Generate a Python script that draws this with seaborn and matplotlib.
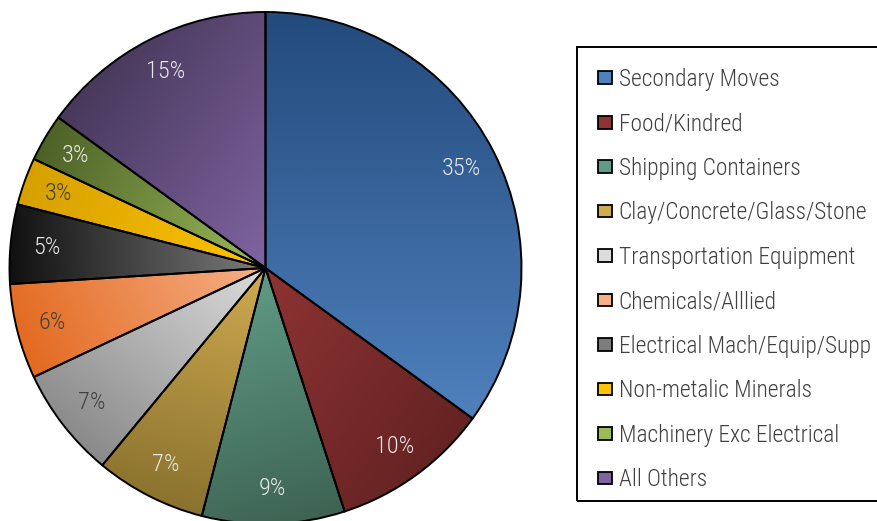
import matplotlib
matplotlib.use('Agg')
import numpy as np
import matplotlib.pyplot as plt
import seaborn as sns
from matplotlib import font_manager as fm
from matplotlib.colors import LinearSegmentedColormap
from matplotlib.patches import Patch, Rectangle

categories = ['Secondary Moves', 'Food/Kindred', 'Shipping Containers',
              'Clay/Concrete/Glass/Stone', 'Transportation Equipment',
              'Chemicals/Alllied', 'Electrical Mach/Equip/Supp',
              'Non-metalic Minerals', 'Machinery Exc Electrical', 'All Others']
shares = [35, 10, 9, 7, 7, 6, 5, 3, 3, 15]

# (dark shade at the slice's starting edge, light shade on the far side)
dark_colors = ['#234a7c', '#652322', '#3e6353', '#8a722e', '#8a8a8a',
               '#e36a20', '#101010', '#d6a000', '#4d6127', '#47395b']
light_colors = ['#4f81bd', '#8e3333', '#5f9b85', '#d0ab50', '#dcdcdc',
                '#f6b088', '#7c7c7c', '#ffc400', '#9bbb59', '#8064a2']
label_colors = ['#e8e8e8', '#e8e8e8', '#e8e8e8', '#e8e8e8', '#404040',
                '#404040', '#e8e8e8', '#404040', '#e8e8e8', '#e8e8e8']


def pick_font(size):
    prefs = [('Roboto Condensed', 300), ('Barlow Semi Condensed', 300),
             ('Open Sans Condensed', 300), ('Archivo Narrow', 400)]
    for name, weight in prefs:
        for f in fm.fontManager.ttflist:
            if f.name == name and str(f.weight) == str(weight) and f.style == 'normal':
                return fm.FontProperties(fname=f.fname, size=size)
    return fm.FontProperties(family='DejaVu Sans', stretch='condensed', size=size)


sns.set_style('white')
plt.rcParams['font.family'] = ['DejaVu Sans']
pct_font = pick_font(17.5)
leg_font = pick_font(16.8)

W, H = 878, 521
fig = plt.figure(figsize=(W / 100, H / 100), dpi=100)
cx, cy, r = 265.5, 268, 256
ax = fig.add_axes([(cx - r) / W, (H - cy - r) / H, 2 * r / W, 2 * r / H])

wedges, _ = ax.pie(shares, startangle=90, counterclock=False, colors=light_colors,
                   wedgeprops=dict(edgecolor='black', linewidth=1.4))

# linear gradient per slice: dark along its starting edge, light across the slice
grid = np.linspace(-1, 1, 500)
gx, gy = np.meshgrid(grid, grid[::-1])
for w, dc, lc in zip(wedges, dark_colors, light_colors):
    a = np.deg2rad(w.theta2)
    proj = gx * np.cos(a) + gy * np.sin(a)
    ts = np.deg2rad(np.linspace(w.theta1, w.theta2, 60))
    pts = np.concatenate([[0.0], np.cos(ts) * np.cos(a) + np.sin(ts) * np.sin(a)])
    lo, hi = pts.min(), pts.max()
    cmap = LinearSegmentedColormap.from_list('g', [lc, dc])
    im = ax.imshow(proj, cmap=cmap, vmin=lo, vmax=hi,
                   extent=(-1, 1, -1, 1), zorder=w.get_zorder() + 0.1)
    im.set_clip_path(w)
    w.set_facecolor('none')
    w.set_zorder(w.get_zorder() + 0.2)

for w, share, tc in zip(wedges, shares, label_colors):
    mid = np.deg2rad((w.theta1 + w.theta2) / 2)
    ax.text(0.86 * np.cos(mid), 0.86 * np.sin(mid), f'{share}%', color=tc,
            fontproperties=pct_font, ha='center', va='center', zorder=5)

ax.set_xlim(-1, 1)
ax.set_ylim(-1, 1)
ax.set_aspect('equal')
ax.axis('off')

handles = [Patch(facecolor=c, edgecolor='black', linewidth=1.3) for c in light_colors]
leg = fig.legend(handles, categories, loc='upper left', prop=leg_font,
                 bbox_to_anchor=(598 / W, 1 - 68 / H), frameon=False,
                 handlelength=0.6, handleheight=0.46, handletextpad=0.28,
                 labelspacing=0.92, borderpad=0, borderaxespad=0)
for t in leg.get_texts():
    t.set_color('#404040')

fig.patches.append(Rectangle((577 / W, 1 - 501 / H), 330 / W, 454 / H,
                             transform=fig.transFigure, fill=False,
                             edgecolor='black', linewidth=1.4))

fig.savefig('out.png', dpi=100)
